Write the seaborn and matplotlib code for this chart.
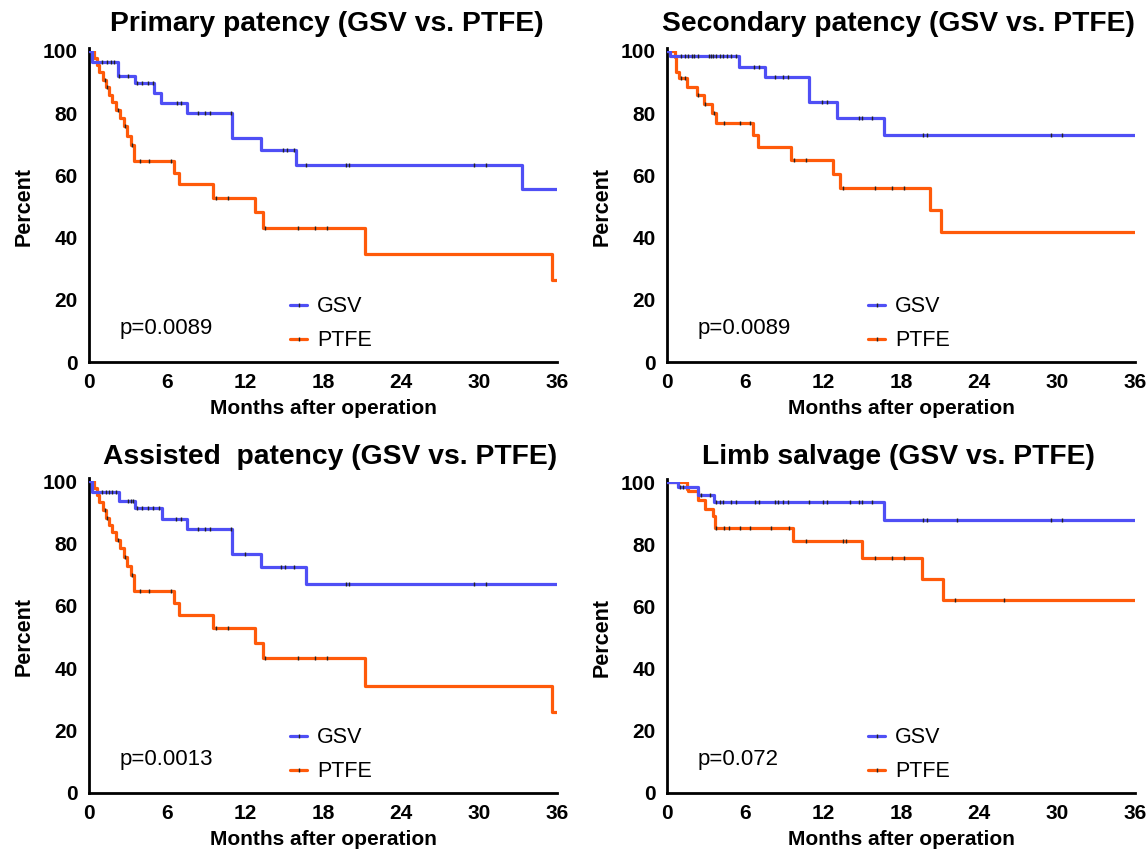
import numpy as np
import pandas as pd
import matplotlib
matplotlib.use("Agg")
import matplotlib.pyplot as plt
from matplotlib.lines import Line2D
import seaborn as sns

sns.set_style("white")
plt.rcParams['font.family'] = ['Liberation Sans', 'DejaVu Sans']
plt.rcParams['text.color'] = 'black'
plt.rcParams['axes.labelcolor'] = 'black'

GSV_COLOR = "#4f4ff5"
PTFE_COLOR = "#ff5a0a"

# Primary patency
prim_gsv_t = [0, 0.2, 2.2, 3.5, 5.0, 5.5, 7.5, 11.0, 13.2, 15.9, 33.3, 36]
prim_gsv_s = [100, 96.5, 92.0, 89.6, 86.4, 83.2, 80.0, 72.0, 68.1, 63.3, 55.5, 55.5]
prim_gsv_cens = [1.0, 1.4, 1.7, 1.9, 2.3, 3.0, 3.7, 4.1, 4.5, 4.9, 6.8, 7.1, 8.4, 8.9, 9.3, 10.9,
                 14.9, 15.2, 15.8, 16.7, 19.8, 20.0, 29.6, 30.5]
prim_ptfe_t = [0, 0.4, 0.6, 0.8, 1.05, 1.3, 1.5, 1.8, 2.05, 2.4, 2.7, 2.95, 3.2, 3.45,
               6.5, 6.9, 9.5, 12.8, 13.4, 21.2, 35.6, 36]
prim_ptfe_s = [100, 97.9, 95.5, 93.3, 90.7, 88.3, 86.0, 83.6, 81.1, 78.4, 75.8, 72.6, 69.8, 64.6,
               60.8, 57.1, 52.8, 48.2, 43.2, 34.7, 26.5, 26.5]
prim_ptfe_cens = [1.2, 1.4, 2.2, 2.8, 3.3, 3.9, 4.6, 6.3, 9.8, 10.7, 13.5, 16.1, 17.4, 18.3]

# Secondary patency
sec_gsv_t = [0, 0.2, 5.5, 7.5, 10.9, 13.1, 16.7, 36]
sec_gsv_s = [100, 98.5, 95.0, 91.5, 83.5, 78.4, 72.9, 72.9]
sec_gsv_cens = [1.1, 1.4, 1.6, 1.9, 2.1, 2.4, 3.2, 3.4, 3.5, 3.8, 4.1, 4.3, 4.6, 4.9, 5.3,
                6.7, 7.1, 8.3, 8.9, 9.3, 11.9, 12.3, 14.8, 15.0, 15.8, 19.7, 20.0, 29.5, 30.4]
sec_ptfe_t = [0, 0.6, 0.72, 0.9, 1.55, 2.3, 2.85, 3.45, 3.8, 6.6, 7.0, 9.5, 12.8, 13.3, 20.2, 21.1, 36]
sec_ptfe_s = [100, 98.2, 93.3, 91.2, 88.3, 85.9, 82.9, 80.0, 76.8, 73.1, 69.0, 65.1, 60.3, 55.8,
              48.9, 41.8, 41.8]
sec_ptfe_cens = [1.05, 1.4, 2.4, 2.9, 3.6, 4.4, 5.6, 6.4, 9.8, 10.7, 13.5, 16.0, 17.3, 18.2]

# Assisted patency
ast_gsv_t = [0, 0.2, 2.3, 3.5, 5.6, 7.5, 11.0, 13.2, 16.7, 36]
ast_gsv_s = [100, 96.6, 93.7, 91.2, 87.8, 84.5, 76.5, 72.4, 67.0, 67.0]
ast_gsv_cens = [1.0, 1.3, 1.5, 1.8, 2.1, 3.0, 3.2, 3.4, 3.7, 4.1, 4.5, 4.9, 5.4, 6.7, 7.1,
                8.4, 8.9, 9.3, 10.9, 12.0, 14.8, 15.1, 15.8, 19.8, 20.0, 29.6, 30.5]
ast_ptfe_t = [0, 0.4, 0.6, 0.8, 1.05, 1.3, 1.5, 1.8, 2.05, 2.4, 2.7, 2.95, 3.2, 3.45,
              6.5, 6.9, 9.5, 12.8, 13.4, 21.2, 35.6, 36]
ast_ptfe_s = [100, 97.9, 95.5, 93.3, 90.7, 88.3, 86.0, 83.6, 81.1, 78.4, 75.8, 72.6, 69.8, 64.6,
              60.8, 57.1, 52.8, 48.2, 43.2, 34.4, 25.9, 25.9]
ast_ptfe_cens = [1.2, 1.4, 2.2, 2.8, 3.3, 3.9, 4.6, 6.3, 9.8, 10.7, 13.5, 16.1, 17.4, 18.3]

# Limb salvage
limb_gsv_t = [0, 0.85, 2.4, 3.6, 16.7, 36]
limb_gsv_s = [100, 98.4, 95.9, 93.6, 87.7, 87.7]
limb_gsv_cens = [1.0, 1.2, 2.6, 3.3, 3.8, 4.05, 4.3, 4.95, 5.3, 6.75, 7.05, 8.3, 8.55, 8.9, 9.3,
                 10.9, 12.0, 12.3, 14.1, 14.75, 15.0, 15.8, 19.7, 20.0, 22.3, 29.5, 30.4]
limb_ptfe_t = [0, 1.5, 1.65, 2.4, 2.9, 3.5, 3.7, 9.7, 15.0, 19.6, 21.2, 36]
limb_ptfe_s = [100, 97.9, 97.0, 94.3, 91.3, 89.0, 85.2, 81.1, 75.6, 68.8, 61.9, 61.9]
limb_ptfe_cens = [3.8, 4.4, 4.8, 5.6, 6.4, 8.0, 9.4, 10.7, 13.55, 13.8, 16.0, 17.3, 18.2, 22.15, 25.9]

titles = ["Primary patency (GSV vs. PTFE)", "Secondary patency (GSV vs. PTFE)",
          "Assisted  patency (GSV vs. PTFE)", "Limb salvage (GSV vs. PTFE)"]
p_values = ["p=0.0089", "p=0.0089", "p=0.0013", "p=0.072"]
x_ticks = [0, 6, 12, 18, 24, 30, 36]
y_ticks = [0, 20, 40, 60, 80, 100]

panels = [
    (prim_gsv_t, prim_gsv_s, prim_gsv_cens, prim_ptfe_t, prim_ptfe_s, prim_ptfe_cens),
    (sec_gsv_t, sec_gsv_s, sec_gsv_cens, sec_ptfe_t, sec_ptfe_s, sec_ptfe_cens),
    (ast_gsv_t, ast_gsv_s, ast_gsv_cens, ast_ptfe_t, ast_ptfe_s, ast_ptfe_cens),
    (limb_gsv_t, limb_gsv_s, limb_gsv_cens, limb_ptfe_t, limb_ptfe_s, limb_ptfe_cens),
]

# axes boxes in pixels (left, bottom, right, top)
W, H = 1146, 852
boxes = [(89, 362, 557, 51), (667, 362, 1135, 51), (89, 793, 557, 481), (667, 793, 1135, 482)]
title_pos = [(327, 24), (898, 24), (330, 457), (898, 457)]


def step_value(t, s, x):
    idx = np.searchsorted(np.asarray(t), x, side='right') - 1
    return np.asarray(s)[idx]


fig = plt.figure(figsize=(W / 100, H / 100), dpi=100)

for i, (gt, gs, gc, pt, ps, pc) in enumerate(panels):
    x0, y0, x1, y1 = boxes[i]
    ax = fig.add_axes([x0 / W, 1 - y0 / H, (x1 - x0) / W, (y0 - y1) / H])

    for t, s, c, col in [(pt, ps, pc, PTFE_COLOR), (gt, gs, gc, GSV_COLOR)]:
        df = pd.DataFrame({"t": t, "s": s})
        sns.lineplot(data=df, x="t", y="s", ax=ax, color=col, lw=2.3,
                     drawstyle="steps-post", estimator=None, zorder=3)
        cdf = pd.DataFrame({"t": c, "s": step_value(t, s, np.asarray(c))})
        sns.scatterplot(data=cdf, x="t", y="s", ax=ax, marker="|", s=10,
                        color="#222222", linewidth=1.0, zorder=4)

    ax.set_xlim(0, 36)
    ax.set_ylim(0, 100)
    ax.set_xticks(x_ticks)
    ax.set_yticks(y_ticks)
    ax.tick_params(direction="out", length=5, width=2, colors="black", labelsize=15, pad=3)
    for lab in ax.get_xticklabels() + ax.get_yticklabels():
        lab.set_fontweight("bold")
    for side in ["top", "right"]:
        ax.spines[side].set_visible(False)
    for side in ["left", "bottom"]:
        ax.spines[side].set_linewidth(2)
        ax.spines[side].set_color("black")
    ax.spines["left"].set_bounds(0, 101)
    ax.set_xlabel("Months after operation", fontsize=15, fontweight="bold", labelpad=5)
    ax.set_ylabel("Percent", fontsize=15.5, fontweight="bold", labelpad=6)

    ax.text(0.066, 0.108, p_values[i], transform=ax.transAxes, fontsize=16, va="center")
    handles = [
        Line2D([], [], color=GSV_COLOR, lw=2.3, marker="|", markersize=3,
               markeredgecolor="#222222", markeredgewidth=1),
        Line2D([], [], color=PTFE_COLOR, lw=2.3, marker="|", markersize=3,
               markeredgecolor="#222222", markeredgewidth=1),
    ]
    ax.legend(handles, ["GSV", "PTFE"], loc="lower left", bbox_to_anchor=(0.43, 0.035),
              frameon=False, fontsize=15.5, handlelength=0.8, handletextpad=0.45,
              labelspacing=0.6, borderpad=0, borderaxespad=0)

    tx, ty = title_pos[i]
    fig.text(tx / W, 1 - ty / H, titles[i], ha="center", va="center",
             fontsize=20.3, fontweight="bold")

fig.savefig("out.png", dpi=100)
